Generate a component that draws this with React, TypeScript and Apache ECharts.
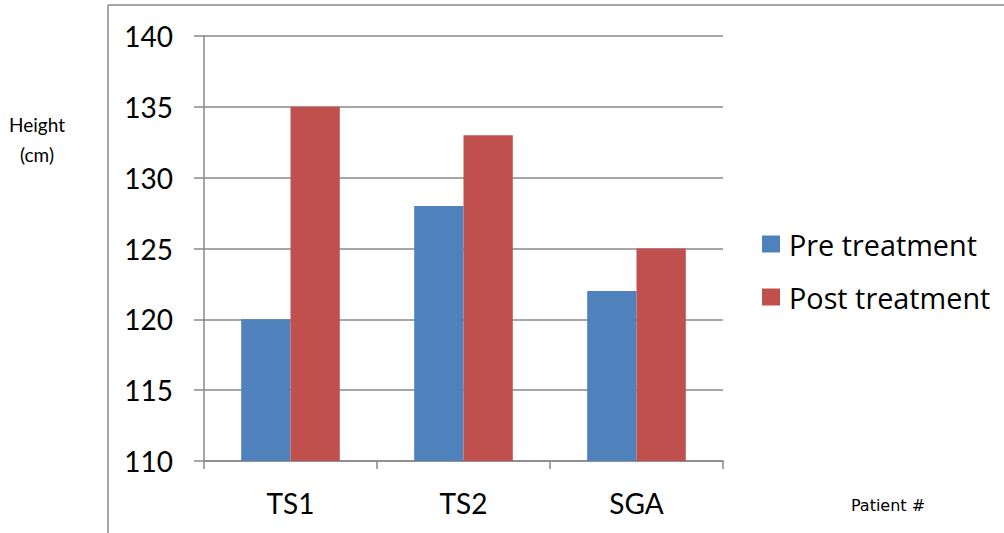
import React, { useEffect, useRef } from "react";
import * as echarts from "echarts";

const categories = ["TS1", "TS2", "SGA"];
const preTreatment = [120, 128, 122];
const postTreatment = [135, 133, 125];
const seriesNames = ["Pre treatment", "Post treatment"];
const yAxisTitle = "Height\n(cm)";
const xAxisTitle = "Patient #";

const FONT = "Lato, 'Open Sans', sans-serif";
const GREY = "#888888";

export default function App() {
  const ref = useRef<HTMLDivElement>(null);
  useEffect(() => {
    if (!ref.current) return;
    const chart = echarts.init(ref.current, null, { renderer: "svg" });
    chart.setOption({
      animation: false,
      backgroundColor: "#ffffff",
      textStyle: { fontFamily: FONT },
      grid: { left: 204, right: 281, top: 36, bottom: 72, containLabel: false },
      legend: {
        orient: "vertical",
        left: 762,
        top: 229,
        padding: 0,
        icon: "rect",
        itemWidth: 18,
        itemHeight: 17,
        itemGap: 23,
        data: seriesNames,
        textStyle: {
          fontSize: 28.8,
          lineHeight: 30,
          color: "#000",
          fontFamily: "'Open Sans', Lato, sans-serif",
          padding: [0, 0, 0, 4],
        },
      },
      xAxis: {
        type: "category",
        data: categories,
        axisLine: { show: true, lineStyle: { color: GREY, width: 1.5 } },
        axisTick: { show: true, length: 8, alignWithLabel: false, lineStyle: { color: GREY, width: 1.5 } },
        axisLabel: { fontSize: 28, color: "#000", margin: 28, fontFamily: FONT },
        splitLine: { show: false },
      },
      yAxis: {
        type: "value",
        min: 110,
        max: 140,
        interval: 5,
        axisLine: { show: true, lineStyle: { color: GREY, width: 1.5 } },
        axisTick: { show: true, length: 10, lineStyle: { color: GREY, width: 1.5 } },
        axisLabel: { fontSize: 28, color: "#000", margin: 31, fontFamily: FONT },
        splitLine: { show: true, lineStyle: { color: GREY, width: 1.5 } },
      },
      series: [
        {
          name: seriesNames[0],
          type: "bar",
          data: preTreatment,
          itemStyle: { color: "#4F81BD" },
          barGap: "0%",
          barCategoryGap: "43%",
        },
        {
          name: seriesNames[1],
          type: "bar",
          data: postTreatment,
          itemStyle: { color: "#C0504D" },
          barGap: "0%",
          barCategoryGap: "43%",
        },
      ],
      graphic: [
        { type: "line", shape: { x1: 108, y1: 5, x2: 1004, y2: 5 }, style: { stroke: GREY, lineWidth: 1.5 } },
        { type: "line", shape: { x1: 108, y1: 5, x2: 108, y2: 533 }, style: { stroke: GREY, lineWidth: 1.5 } },
        {
          type: "text",
          x: 37,
          y: 139,
          style: {
            text: yAxisTitle,
            fontSize: 19,
            fontFamily: FONT,
            fill: "#000",
            align: "center",
            verticalAlign: "middle",
            lineHeight: 30,
          },
        },
        {
          type: "text",
          x: 888,
          y: 505,
          style: {
            text: xAxisTitle,
            fontSize: 16,
            fontFamily: "'DejaVu Sans', sans-serif",
            fill: "#000",
            align: "center",
            verticalAlign: "middle",
          },
        },
      ],
    });
    return () => chart.dispose();
  }, []);
  return (
    <div
      ref={ref}
      style={{ position: "absolute", left: 0, top: 0, width: 1004, height: 533 }}
    />
  );
}
